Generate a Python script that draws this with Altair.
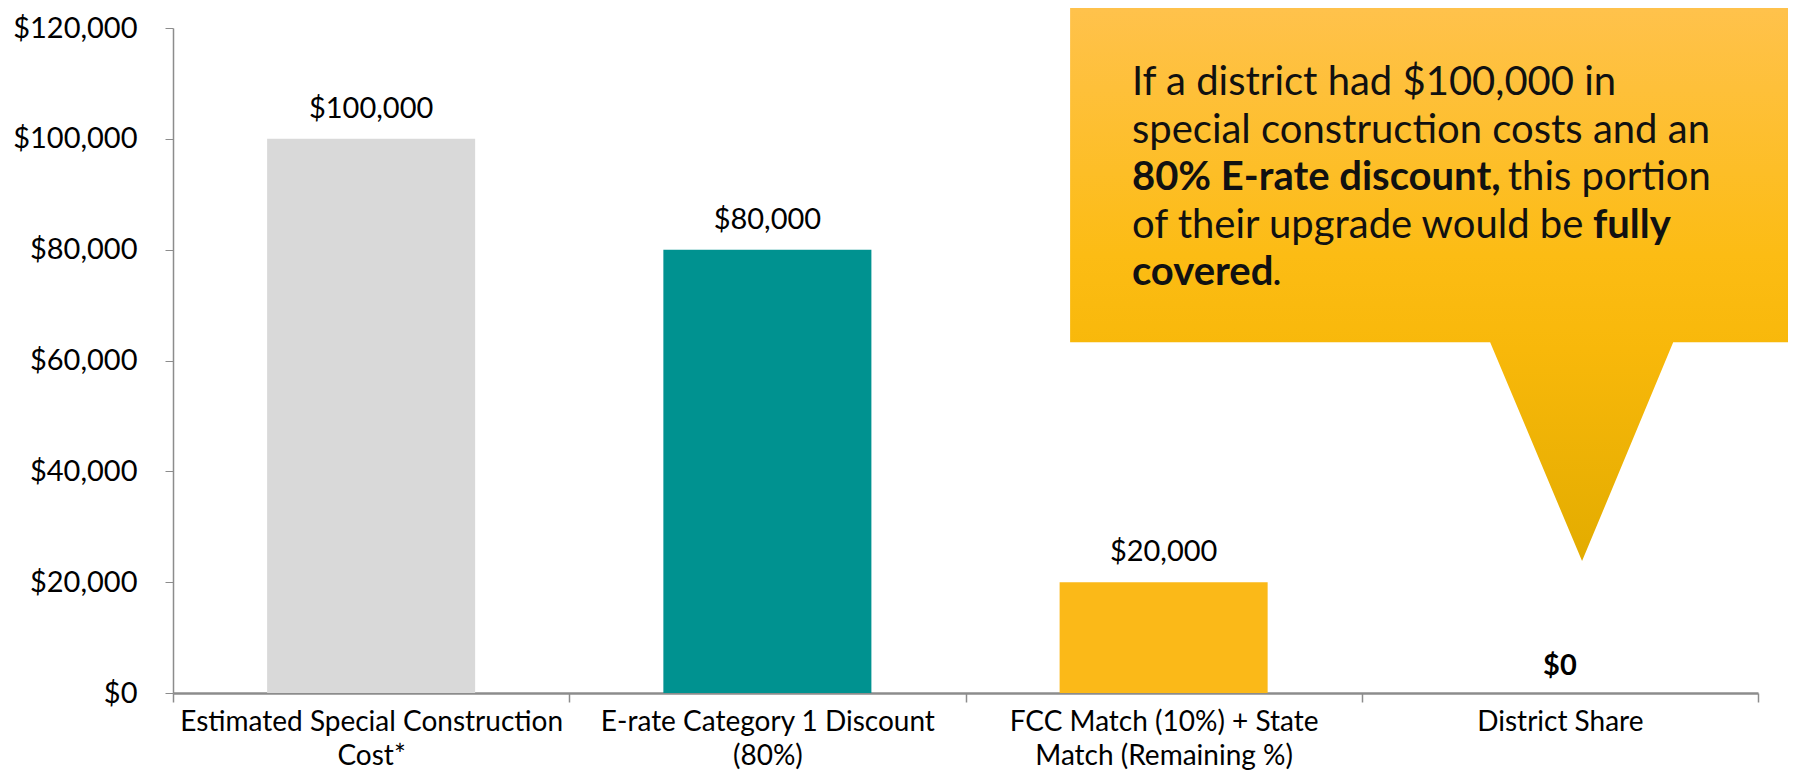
import json
import altair as alt
import pandas as pd

# ---- data ----
categories = [
    "Estimated Special Construction Cost*",
    "E-rate Category 1 Discount (80%)",
    "FCC Match (10%) + State Match (Remaining %)",
    "District Share",
]
label_lines = [
    ["Estimated Special Construction", "Cost*"],
    ["E-rate Category 1 Discount", "(80%)"],
    ["FCC Match (10%) + State", "Match (Remaining %)"],
    ["District Share"],
]
values = [100000, 80000, 20000, 0]
bar_colors = ["#D9D9D9", "#009290", "#FBB918", "#FFFFFF"]
y_ticks = [0, 20000, 40000, 60000, 80000, 100000, 120000]

# callout (annotation) geometry in band units (x) and dollar units (y)
callout_x = [2.264, 3.324, 3.556, 3.786, 4.088]
callout_top = [124000, 124000, 124000, 124000, 124000]
callout_bottom = [63300, 63300, 23800, 63300, 63300]

text_left_x = 2.420
line_y = [107900, 99330, 90760, 82190, 73620]
normal_left_text = ["If a district had $100,000 in", "special construction costs and an",
                    "of their upgrade would be", "."]
normal_left_x = [text_left_x, text_left_x, text_left_x, 2.774]
normal_left_y = [line_y[0], line_y[1], line_y[3], line_y[4]]
bold_left_text = ["80% E-rate discount,", "covered"]
bold_left_y = [line_y[2], line_y[4]]
normal_right_text = ["this portion"]
normal_right_x = [3.881]
normal_right_y = [line_y[2]]
bold_right_text = ["fully"]
bold_right_x = [3.780]
bold_right_y = [line_y[3]]

FONT = "Lato"

df = pd.DataFrame({"category": categories, "value": values})

label_expr = ""
for c, lines in zip(categories, label_lines):
    label_expr += f"datum.value == {json.dumps(c)} ? {json.dumps(lines)} : "
label_expr += "datum.label"

yscale = alt.Scale(domain=[0, 120000], nice=False, zero=True)
xq = alt.Scale(domain=[0, 4], nice=False, zero=False)
xband = alt.Scale(paddingInner=0, paddingOuter=0)

bars = alt.Chart(df).mark_bar(width=alt.RelativeBandSize(0.525)).encode(
    x=alt.X("category:N", sort=categories, scale=xband,
            axis=alt.Axis(title=None, labelAngle=0, labelExpr=label_expr,
                          labelFontSize=28, labelFont=FONT, labelColor="#000000",
                          labelLineHeight=34, labelPadding=6, labelBaseline="top",
                          tickBand="extent", tickSize=9, tickColor="#8C8C8C",
                          tickWidth=1.5, domainColor="#8C8C8C", domainWidth=2.5,
                          labelLimit=500)),
    y=alt.Y("value:Q", scale=yscale,
            axis=alt.Axis(title=None, values=y_ticks, format="$,.0f", grid=False,
                          labelFontSize=29, labelFont=FONT, labelColor="#000000",
                          labelPadding=28, tickSize=8, tickColor="#8C8C8C",
                          domainColor="#8C8C8C", domainWidth=1.5)),
    color=alt.Color("category:N", sort=categories,
                    scale=alt.Scale(domain=categories, range=bar_colors),
                    legend=None),
)

val_normal = alt.Chart(df).mark_text(
    font=FONT, fontSize=29, baseline="alphabetic", dy=-21, color="#000000"
).encode(
    x=alt.X("category:N", sort=categories, scale=xband),
    y=alt.Y("value:Q", scale=yscale),
    text=alt.Text("value:Q", format="$,.0f"),
).transform_filter("datum.value > 0")

val_bold = alt.Chart(df).mark_text(
    font=FONT, fontSize=29, fontWeight="bold", baseline="alphabetic", dy=-18, color="#000000"
).encode(
    x=alt.X("category:N", sort=categories, scale=xband),
    y=alt.Y("value:Q", scale=yscale),
    text=alt.Text("value:Q", format="$,.0f"),
).transform_filter("datum.value == 0")

base = alt.layer(bars, val_normal, val_bold)

callout_df = pd.DataFrame({"x": callout_x, "top": callout_top, "bottom": callout_bottom})
grad = alt.Gradient(
    gradient="linear",
    stops=[
        alt.GradientStop(color="#FFC24C", offset=0),
        alt.GradientStop(color="#FCBC14", offset=0.45),
        alt.GradientStop(color="#F8B80A", offset=0.62),
        alt.GradientStop(color="#E3AC00", offset=1),
    ],
    x1=0, x2=0, y1=0, y2=1,
)
callout = alt.Chart(callout_df).mark_area(color=grad, interpolate="linear").encode(
    x=alt.X("x:Q", scale=xq, axis=None),
    y=alt.Y("top:Q", scale=yscale),
    y2="bottom:Q",
)


def text_layer(texts, xs, ys, weight, align):
    d = pd.DataFrame({"t": texts, "x": xs, "y": ys})
    return alt.Chart(d).mark_text(
        font=FONT, fontSize=40, fontWeight=weight, align=align,
        baseline="alphabetic", color="#111111"
    ).encode(
        x=alt.X("x:Q", scale=xq, axis=None),
        y=alt.Y("y:Q", scale=yscale),
        text="t:N",
    )


t1 = text_layer(normal_left_text, normal_left_x, normal_left_y, "normal", "left")
t2 = text_layer(bold_left_text, [text_left_x] * len(bold_left_text), bold_left_y, "bold", "left")
t3 = text_layer(normal_right_text, normal_right_x, normal_right_y, "normal", "right")
t4 = text_layer(bold_right_text, bold_right_x, bold_right_y, "bold", "right")

chart = alt.layer(
    base, callout, t1, t2, t3, t4
).resolve_scale(x="independent").properties(
    width=1585, height=665,
    autosize=alt.AutoSizeParams(type="none"),
    padding={"left": 165, "top": 20, "right": 30, "bottom": 78},
    background="#FFFFFF",
).configure_view(stroke=None)

chart.save("out.html", embed_options={"renderer": "svg", "actions": False})
